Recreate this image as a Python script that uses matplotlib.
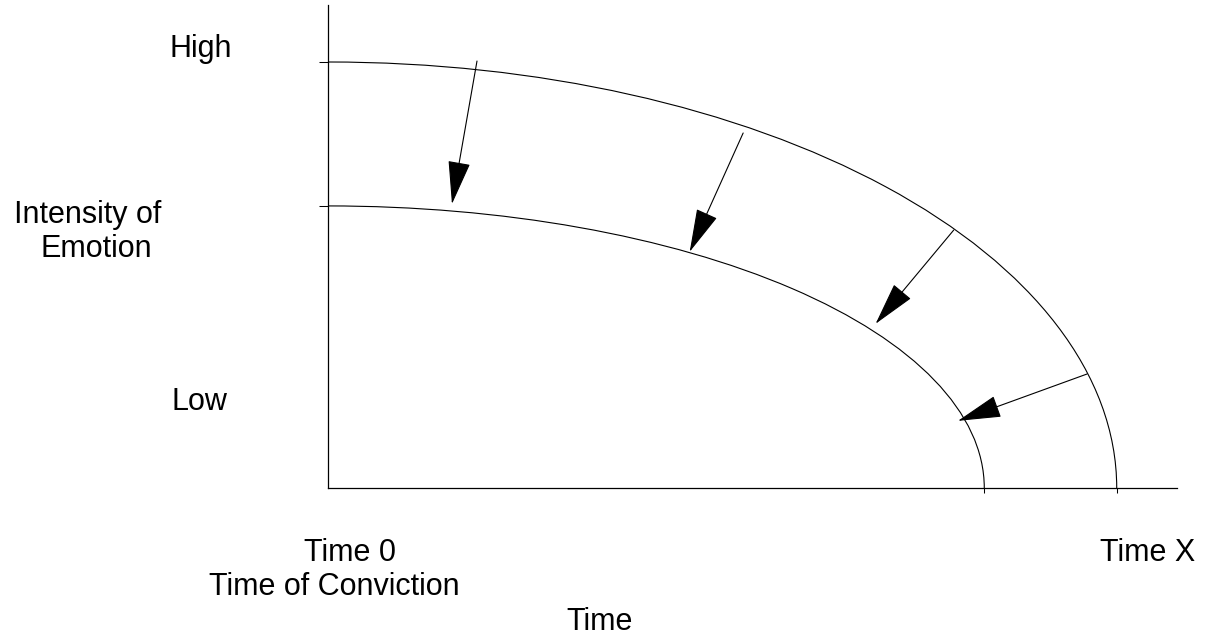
import matplotlib
matplotlib.use("Agg")
import matplotlib.pyplot as plt
from matplotlib.patches import Arc

plt.rcParams['font.family'] = ['Liberation Sans', 'DejaVu Sans']

# curve intercepts (time at which emotion reaches zero, starting intensity)
outer_end, outer_start = 9.29, 8.82
inner_end, inner_start = 7.73, 5.84

# arrows from outer curve down to inner curve: (x0, y0) -> (x1, y1)
arrow_from = [(1.755, 8.84), (4.89, 7.35), (7.37, 5.34), (8.94, 2.36)]
arrow_to = [(1.46, 5.88), (4.26, 4.89), (6.45, 3.40), (7.42, 1.39)]

W, H = 1205, 636
fig = plt.figure(figsize=(W / 100, H / 100), dpi=100)
ax = fig.add_axes([328 / W, (H - 488) / H, (1177 - 328) / W, (488 - 5) / H])
ax.set_xlim(0, 10)
ax.set_ylim(0, 10)

for s in ["top", "right"]:
    ax.spines[s].set_visible(False)
for s in ["left", "bottom"]:
    ax.spines[s].set_linewidth(0.9)
    ax.spines[s].set_color("black")

ax.set_yticks([inner_start, outer_start])
ax.set_xticks([inner_end, outer_end])
ax.set_yticklabels([])
ax.set_xticklabels([])
ax.tick_params(axis="y", direction="out", length=6.5, width=0.75)
ax.tick_params(axis="x", direction="out", length=3.6, width=0.75)

for xe, ys in [(outer_end, outer_start), (inner_end, inner_start)]:
    ax.add_patch(Arc((0, 0), 2 * xe, 2 * ys, theta1=0, theta2=90,
                     lw=0.8, color="black"))

for (x0, y0), (x1, y1) in zip(arrow_from, arrow_to):
    ax.annotate("", xy=(x1, y1), xytext=(x0, y0),
                arrowprops=dict(arrowstyle="-|>,head_length=1.4,head_width=0.36",
                                mutation_scale=20, lw=0.8, color="black",
                                shrinkA=0, shrinkB=0))

fs = 22
def px_text(x, y, s, **kw):
    # x = horizontal centre, y = baseline, both in pixels
    fig.text(x / W, 1 - y / H, s, fontsize=fs, ha="center", va="baseline", **kw)

px_text(201, 57, "High")
px_text(88, 223, "Intensity of")
px_text(96, 257, "Emotion")
px_text(199, 410, "Low")
px_text(350, 561, "Time 0")
px_text(334, 595, "Time of Conviction")
px_text(1148, 561, "Time X")
px_text(600, 630, "Time")

fig.savefig("out.png", dpi=100)
